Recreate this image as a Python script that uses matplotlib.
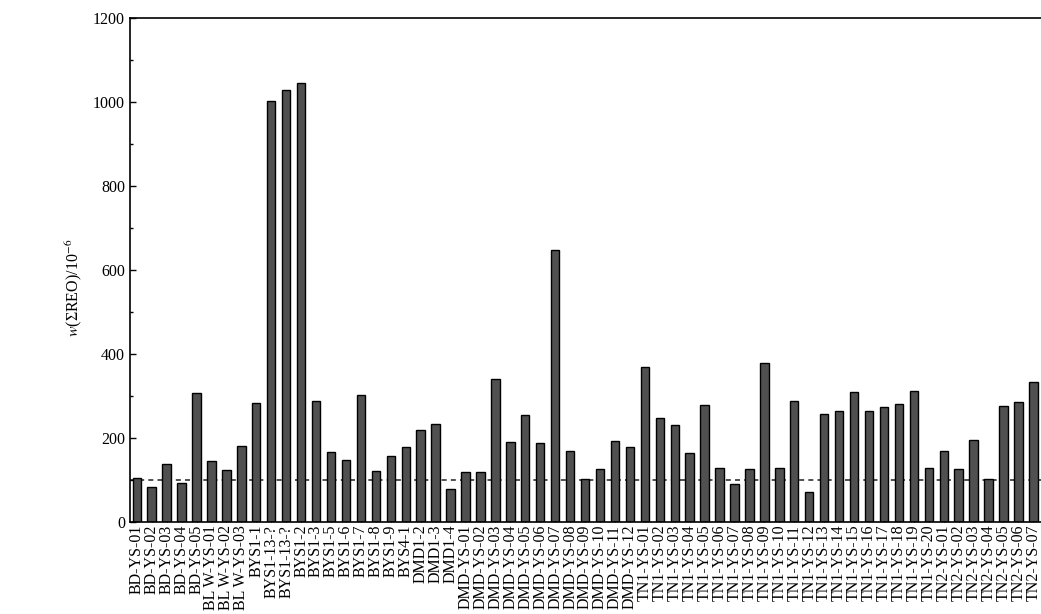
import matplotlib
matplotlib.use("Agg")
import matplotlib.pyplot as plt
import numpy as np
from matplotlib.ticker import MultipleLocator

plt.rcParams['font.family'] = ['Liberation Serif', 'DejaVu Serif']
plt.rcParams['mathtext.fontset'] = 'stix'

samples = [
    "BD-YS-01", "BD-YS-02", "BD-YS-03", "BD-YS-04", "BD-YS-05",
    "BL W-YS-01", "BL W-YS-02", "BL W-YS-03",
    "BYS1-1", "BYS1-13-?", "BYS1-13-?", "BYS1-2", "BYS1-3", "BYS1-5",
    "BYS1-6", "BYS1-7", "BYS1-8", "BYS1-9", "BYS4-1",
    "DMD1-2", "DMD1-3", "DMD1-4",
    "DMD-YS-01", "DMD-YS-02", "DMD-YS-03", "DMD-YS-04", "DMD-YS-05",
    "DMD-YS-06", "DMD-YS-07", "DMD-YS-08", "DMD-YS-09", "DMD-YS-10",
    "DMD-YS-11", "DMD-YS-12",
    "TN1-YS-01", "TN1-YS-02", "TN1-YS-03", "TN1-YS-04", "TN1-YS-05",
    "TN1-YS-06", "TN1-YS-07", "TN1-YS-08", "TN1-YS-09", "TN1-YS-10",
    "TN1-YS-11", "TN1-YS-12", "TN1-YS-13", "TN1-YS-14", "TN1-YS-15",
    "TN1-YS-16", "TN1-YS-17", "TN1-YS-18", "TN1-YS-19", "TN1-YS-20",
    "TN2-YS-01", "TN2-YS-02", "TN2-YS-03", "TN2-YS-04", "TN2-YS-05",
    "TN2-YS-06", "TN2-YS-07",
]

reo_total = [
    104, 84, 139, 93, 306,
    146, 124, 182,
    283, 1003, 1029, 1046, 288, 166,
    148, 303, 122, 156, 179,
    219, 234, 78,
    118, 118, 341, 190, 255,
    187, 648, 169, 102, 126,
    193, 179,
    370, 247, 231, 165, 279,
    129, 90, 126, 378, 129,
    288, 71, 256, 264, 310,
    264, 274, 282, 313, 129,
    169, 126, 195, 103, 276,
    286, 333,
]

reference_level = 100

fig = plt.figure(figsize=(10.41, 6.14), dpi=100)
ax = fig.add_axes([130 / 1041, 92 / 614, 1 - 130 / 1041 + 0.002, 504 / 614])

x = np.arange(len(samples))
ax.bar(x, reo_total, width=0.56, color='#505050', edgecolor='black',
       linewidth=1.0, zorder=2)
ax.axhline(reference_level, color='#333333', linestyle=(0, (3, 2.5)),
           linewidth=1.2, zorder=1)

ax.set_xlim(-0.45, 60.65)
ax.set_ylim(0, 1200)
ax.yaxis.set_major_locator(MultipleLocator(200))
ax.yaxis.set_minor_locator(MultipleLocator(100))
ax.tick_params(axis='y', which='both', direction='in', labelsize=11.5,
               length=4, width=1)
ax.tick_params(axis='y', which='minor', length=2)
ax.set_xticks(x)
ax.set_xticklabels(samples, rotation=90, fontsize=11.5)
ax.tick_params(axis='x', direction='in', length=3, pad=2)

for s in ax.spines.values():
    s.set_linewidth(1.2)

ax.set_ylabel(r"$\it{w}$(ΣREO)/10$^{-6}$", fontsize=11.5)
ax.yaxis.set_label_coords(-0.05, 0.465)

fig.savefig("out.png", dpi=100)
